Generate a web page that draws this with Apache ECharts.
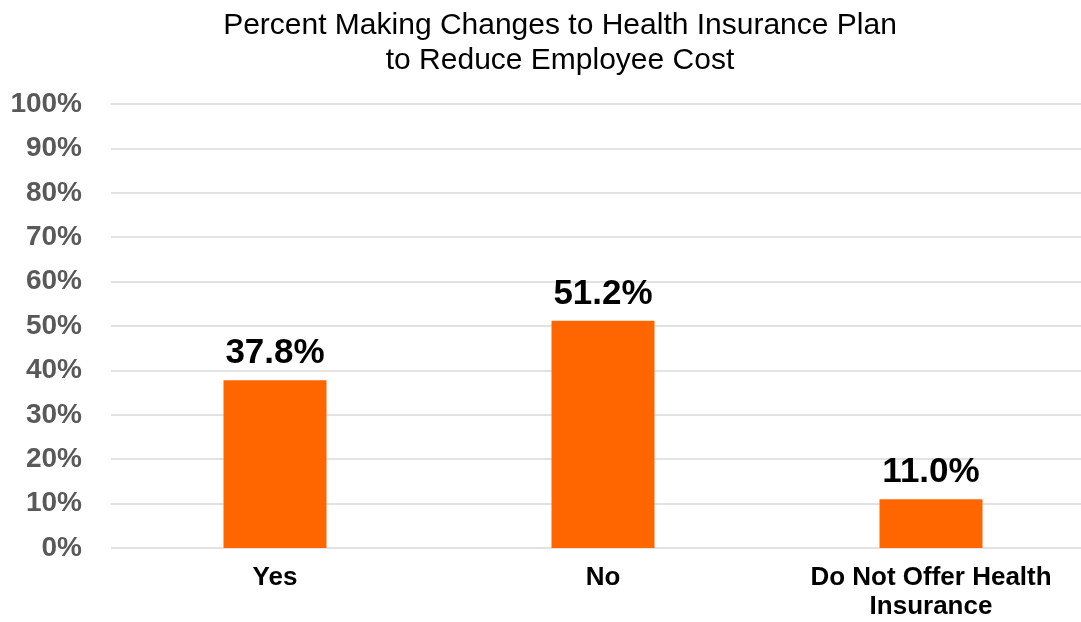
<!DOCTYPE html>
<html>
<head>
<meta charset="utf-8">
<script src="https://cdn.jsdelivr.net/npm/echarts@6/dist/echarts.min.js"></script>
<style>
  html, body { margin: 0; padding: 0; background: #ffffff; }
  #chart { width: 1081px; height: 622px; }
</style>
</head>
<body>
<div id="chart"></div>
<script>
// Share of employers changing their health plan to lower employee cost
const categories = ['Yes', 'No', 'Do Not Offer Health\nInsurance'];
const values = [37.8, 51.2, 11.0];
const yTicks = [0, 10, 20, 30, 40, 50, 60, 70, 80, 90, 100];

const FONT = '"Liberation Sans", Arial, sans-serif';

const chart = echarts.init(document.getElementById('chart'));
chart.setOption({
  backgroundColor: '#ffffff',
  animation: false,
  title: {
    text: 'Percent Making Changes to Health Insurance Plan\nto Reduce Employee Cost',
    left: 555,
    textAlign: 'center',
    top: 3,
    textStyle: {
      fontFamily: FONT,
      fontSize: 30,
      fontWeight: 'normal',
      color: '#000000',
      lineHeight: 35
    }
  },
  grid: {
    left: 111,
    top: 104,
    width: 984,
    height: 444,
    containLabel: false,
    outerBoundsMode: 'none'
  },
  xAxis: {
    type: 'category',
    data: categories,
    axisLine: { show: false },
    axisTick: { show: false },
    axisLabel: {
      fontFamily: FONT,
      fontSize: 26,
      fontWeight: 'bold',
      color: '#000000',
      margin: 15,
      lineHeight: 29,
      interval: 0
    }
  },
  yAxis: {
    type: 'value',
    min: yTicks[0],
    max: yTicks[yTicks.length - 1],
    interval: yTicks[1] - yTicks[0],
    axisLine: { show: false },
    axisTick: { show: false },
    splitLine: { lineStyle: { color: '#d9d9d9', width: 1.5 } },
    axisLabel: {
      fontFamily: FONT,
      fontSize: 28,
      fontWeight: 'bold',
      color: '#595959',
      margin: 29,
      formatter: v => v + '%'
    }
  },
  series: [{
    type: 'bar',
    data: values,
    barWidth: 103,
    itemStyle: { color: '#ff6600' },
    label: {
      show: true,
      position: 'top',
      distance: 9,
      fontFamily: FONT,
      fontSize: 35,
      fontWeight: 'bold',
      color: '#000000',
      formatter: p => p.value.toFixed(1) + '%'
    }
  }]
});
</script>
</body>
</html>
